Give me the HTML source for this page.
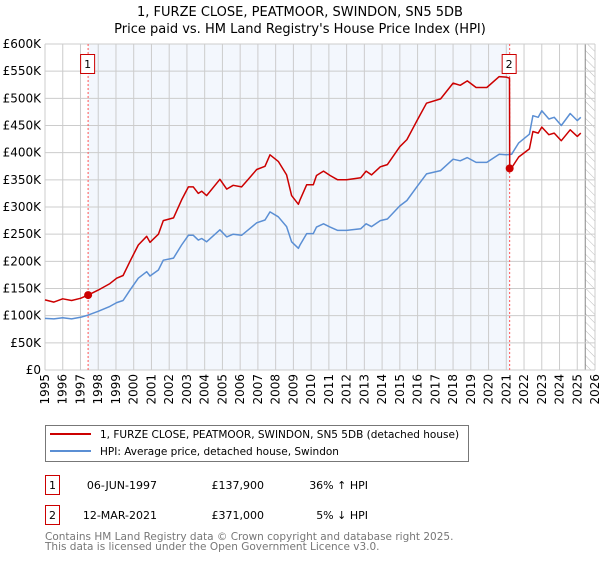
<!DOCTYPE html>
<html><head><meta charset="utf-8"><style>
body{margin:0;background:#fff;width:600px;height:560px;overflow:hidden;font-family:"DejaVu Sans","Liberation Sans",sans-serif}
svg text{font-family:"DejaVu Sans","Liberation Sans",sans-serif}
</style></head><body>
<svg id="c" width="600" height="560" xmlns="http://www.w3.org/2000/svg">
<defs><pattern id="hatch" width="6" height="6" patternUnits="userSpaceOnUse" patternTransform="rotate(-45)"><line x1="0" y1="0" x2="0" y2="6" stroke="#bbb" stroke-width="1"/></pattern></defs>
<text x="300" y="16" text-anchor="middle" font-size="13" fill="#000">1, FURZE CLOSE, PEATMOOR, SWINDON, SN5 5DB</text>
<text x="300" y="33" text-anchor="middle" font-size="13" fill="#000">Price paid vs. HM Land Registry's House Price Index (HPI)</text>
<g id="plot"></g>
<g>
<rect x="45.5" y="425.5" width="423" height="36" fill="#fff" stroke="#777"/>
<line x1="50" y1="434" x2="91" y2="434" stroke="#cc0000" stroke-width="2"/>
<text x="100" y="438" font-size="10.5">1, FURZE CLOSE, PEATMOOR, SWINDON, SN5 5DB (detached house)</text>
<line x1="50" y1="451" x2="91" y2="451" stroke="#5b8fd4" stroke-width="2"/>
<text x="100" y="455" font-size="10.5">HPI: Average price, detached house, Swindon</text>
</g>
<g font-size="11">
<rect x="45.5" y="475.5" width="14" height="19" fill="#fff" stroke="#cc0000"/>
<text x="52.5" y="489" text-anchor="middle">1</text>
<text x="157" y="489" text-anchor="end">06-JUN-1997</text>
<text x="264" y="489" text-anchor="end">£137,900</text>
<text x="368" y="489" text-anchor="end">36% ↑ HPI</text>
<rect x="45.5" y="505.5" width="14" height="19" fill="#fff" stroke="#cc0000"/>
<text x="52.5" y="519" text-anchor="middle">2</text>
<text x="157" y="519" text-anchor="end">12-MAR-2021</text>
<text x="264" y="519" text-anchor="end">£371,000</text>
<text x="368" y="519" text-anchor="end">5% ↓ HPI</text>
</g>
<text x="45" y="540" font-size="10.5" fill="#777">Contains HM Land Registry data © Crown copyright and database right 2025.</text>
<text x="45" y="550" font-size="10.5" fill="#777">This data is licensed under the Open Government Licence v3.0.</text>
</svg>
<script>
const hpiYears=[1995.0,1995.5,1996.0,1996.5,1997.0,1997.43,1998.0,1998.66,1999.04,1999.4,1999.79,2000.26,2000.73,2000.92,2001.39,2001.67,2002.24,2002.7,2003.08,2003.36,2003.64,2003.83,2004.11,2004.86,2005.24,2005.61,2006.08,2006.46,2006.93,2007.4,2007.68,2008.15,2008.62,2008.9,2009.28,2009.37,2009.75,2010.12,2010.3,2010.7,2011.07,2011.5,2012.0,2012.8,2013.1,2013.4,2013.9,2014.3,2015.0,2015.4,2016.0,2016.5,2017.3,2018.0,2018.4,2018.8,2019.3,2019.9,2020.6,2021.0,2021.3,2021.7,2022.3,2022.5,2022.8,2023.0,2023.4,2023.7,2024.1,2024.6,2025.0,2025.2];
const hpiValues=[95,94,96,94,97,101,108,117,124,128,147,169,181,173,184,202,206,230,248,248,239,242,236,258,245,250,248,258,271,276,291,282,264,236,224,230,251,251,263,269,263,257,257,260,269,264,275,278,302,312,339,361,367,388,385,391,382,382,397,396,397,418,434,468,465,477,462,465,450,472,459,465];
const priceYears=[1995.0,1995.5,1996.0,1996.5,1997.0,1997.43,1998.0,1998.66,1999.04,1999.4,1999.79,2000.26,2000.73,2000.92,2001.39,2001.67,2002.24,2002.7,2003.08,2003.36,2003.64,2003.83,2004.11,2004.86,2005.24,2005.61,2006.08,2006.46,2006.93,2007.4,2007.68,2008.15,2008.62,2008.9,2009.28,2009.37,2009.75,2010.12,2010.3,2010.7,2011.07,2011.5,2012.0,2012.8,2013.1,2013.4,2013.9,2014.3,2015.0,2015.4,2016.0,2016.5,2017.3,2018.0,2018.4,2018.8,2019.3,2019.9,2020.6,2021.0,2021.18,2021.19,2021.3,2021.7,2022.3,2022.5,2022.8,2023.0,2023.4,2023.7,2024.1,2024.6,2025.0,2025.2];
const priceValues=[129,125,131,128,132,137.9,147,159,169,174,200,230,246,235,250,275,280,313,337,337,325,329,321,351,333,340,337,351,369,375,396,384,359,321,305,313,341,341,358,366,358,350,350,354,366,359,374,378,411,424,461,491,499,528,524,532,520,520,540,539,537,371,372,392,407,439,436,447,433,436,422,442,430,436];
const saleYears=[1997.43,2021.19];
const saleValues=[137.9,371];
const saleLabels=["1","2"];
const yTicks=[0,50,100,150,200,250,300,350,400,450,500,550,600];
const yTickLabels=["£0","£50K","£100K","£150K","£200K","£250K","£300K","£350K","£400K","£450K","£500K","£550K","£600K"];
const xTicks=[1995,1996,1997,1998,1999,2000,2001,2002,2003,2004,2005,2006,2007,2008,2009,2010,2011,2012,2013,2014,2015,2016,2017,2018,2019,2020,2021,2022,2023,2024,2025,2026];
const hatchStart=2025.45;

const L=45,R=595,T=44,B=370;
const X=y=>L+(y-1995)/(2026-1995)*(R-L);
const Y=v=>B-v/600*(B-T);
const NS="http://www.w3.org/2000/svg";
const g=document.getElementById('plot');
function mk(tag,attrs,parent){const e=document.createElementNS(NS,tag);for(const k in attrs)e.setAttribute(k,attrs[k]);(parent||g).appendChild(e);return e;}
const shade=mk('rect',{x:X(saleYears[0]),y:T,width:X(saleYears[1])-X(saleYears[0]),height:B-T,fill:'#eef3fc',opacity:0.7});


const hatch=mk('rect',{x:X(hatchStart),y:T,width:R-X(hatchStart),height:B-T,fill:'url(#hatch)'});


mk('line',{x1:X(hatchStart),y1:T,x2:X(hatchStart),y2:B,stroke:'#888','stroke-width':1});
yTicks.forEach((t,i)=>{
 const l=mk('line',{x1:L,x2:R,y1:Y(t),y2:Y(t),stroke:'#cccccc','stroke-width':1});
 
 
 const tx=mk('text',{x:L-4,y:Y(t)+4,'text-anchor':'end','font-size':'12',fill:'#000'});
 tx.textContent=yTickLabels[i];
 
 
});
xTicks.forEach(t=>{
 const l=mk('line',{x1:X(t),x2:X(t),y1:T,y2:B,stroke:'#cccccc','stroke-width':1});
 
 
 const tx=mk('text',{x:0,y:0,'text-anchor':'end','font-size':'12',fill:'#000',transform:`translate(${X(t)+4},${B+4}) rotate(-90)`});
 tx.textContent=t;
 
 
});
saleYears.forEach((s,i)=>{
 const l=mk('line',{x1:X(s),x2:X(s),y1:T,y2:B,stroke:'#ff5555','stroke-width':1,'stroke-dasharray':'2,2'});
 
 
});
function path(xs,vs){return xs.map((x,i)=>(i?'L':'M')+X(x).toFixed(1)+','+Y(vs[i]).toFixed(1)).join('');}
const hp=mk('path',{d:path(hpiYears,hpiValues),fill:'none',stroke:'#5b8fd4','stroke-width':1.5,'stroke-linejoin':'round'});


const pp=mk('path',{d:path(priceYears,priceValues),fill:'none',stroke:'#cc0000','stroke-width':1.5,'stroke-linejoin':'round'});


saleYears.forEach((s,i)=>{
 const c=mk('circle',{cx:X(s),cy:Y(saleValues[i]),r:4,fill:'#cc0000'});
 
 
 const bx=mk('rect',{x:X(s)-7.5,y:54.5,width:14,height:19,fill:'#fff',stroke:'#cc0000'});
 
 
 const tx=mk('text',{x:X(s)-0.5,y:68,'text-anchor':'middle','font-size':'11'});
 tx.textContent=saleLabels[i];
 
 
});
</script>
</body></html>
